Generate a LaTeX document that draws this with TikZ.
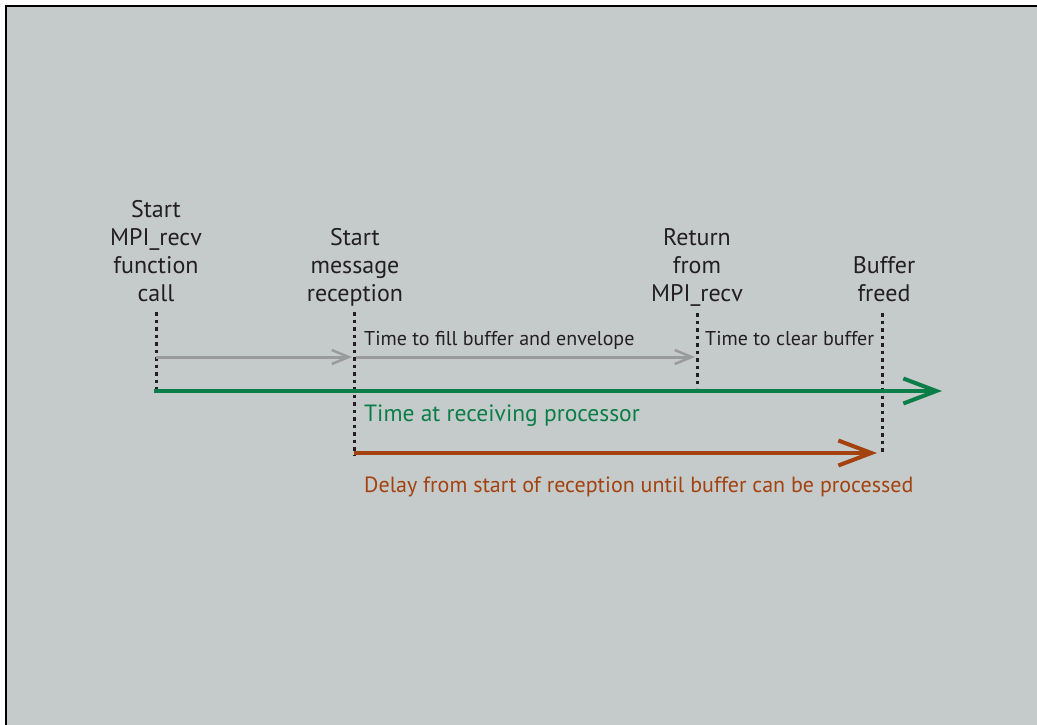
\documentclass[tikz,border=0pt]{standalone}
\usepackage{fontspec}
\setmainfont{PT Sans}
\usetikzlibrary{arrows.meta}
\definecolor{bg}{HTML}{C5CBCA}
\definecolor{ink}{HTML}{231F20}
\definecolor{grn}{HTML}{0B7D48}
\definecolor{org}{HTML}{A3420F}
\definecolor{gry}{HTML}{9A9C9C}
\tikzset{
  lbl/.style={align=center, font=\fontsize{24}{28}\selectfont, text=ink, inner sep=0pt, text depth=0pt, anchor=south},
  note/.style={font=\fontsize{20}{24}\selectfont, text=ink, inner sep=0pt, anchor=base west},
  tickline/.style={draw=ink, line width=3pt, dash pattern=on 3.5pt off 4pt},
  grayarr/.style={draw=gry, line width=3pt, -{Straight Barb[length=17pt,width=14pt,line width=2.5pt]}},
  bigarr/.style={line width=4pt, -{Straight Barb[length=33pt,width=25pt,line width=4pt]}},
}
\begin{document}
\begin{tikzpicture}[x=1pt,y=-1pt]
\useasboundingbox (0,0) rectangle (1037,725);
\begin{scope}
\clip (0,0) rectangle (1037,725);
\fill[bg] (6,6) rectangle (1045,735);
\draw[black, line width=2pt] (6,6) rectangle (1045,735);
\end{scope}
% time points
\coordinate (a1) at (156,312); \coordinate (a2) at (156,390);
\coordinate (b1) at (354,312); \coordinate (b2) at (354,455);
\coordinate (c1) at (697,313); \coordinate (c2) at (697,388);
\coordinate (d1) at (882,313); \coordinate (d2) at (882,455);
% labels
\node[lbl] (la) at (156,302) {Start\\MPI\_recv\\function\\call};
\node[lbl] (lb) at (355,302) {Start\\message\\reception};
\node[lbl] (lc) at (697,302) {Return\\from\\MPI\_recv};
\node[lbl] (ld) at (884,302) {Buffer\\freed};
% dotted markers
\draw[tickline] (a1) -- (a2);
\draw[tickline] (b1) -- (b2);
\draw[tickline] (c1) -- (c2);
\draw[tickline] (d1) -- (d2);
% gray arrows
\coordinate (g0) at (156,357); \coordinate (g1) at (352,357);
\coordinate (g2) at (356,357); \coordinate (g3) at (695,357);
\draw[grayarr] (g0) -- (g1);
\draw[grayarr] (g2) -- (g3);
\node[note] (t1) at (364,345) {Time to fill buffer and envelope};
\node[note] (t2) at (705,345) {Time to clear buffer};
% green time axis
\coordinate (h0) at (154,391); \coordinate (h1) at (942,391);
\draw[bigarr, draw=grn] (h0) -- (h1);
\node[note, text=grn, font=\fontsize{23.5}{26}\selectfont] (t3) at (364,421) {Time at receiving processor};
% orange delay
\coordinate (o0) at (354,453); \coordinate (o1) at (877,453);
\draw[bigarr, draw=org] (o0) -- (o1);
\node[note, text=org, font=\fontsize{22}{26}\selectfont] (t4) at (364,492) {Delay from start of reception until buffer can be processed};
\end{tikzpicture}
\end{document}
